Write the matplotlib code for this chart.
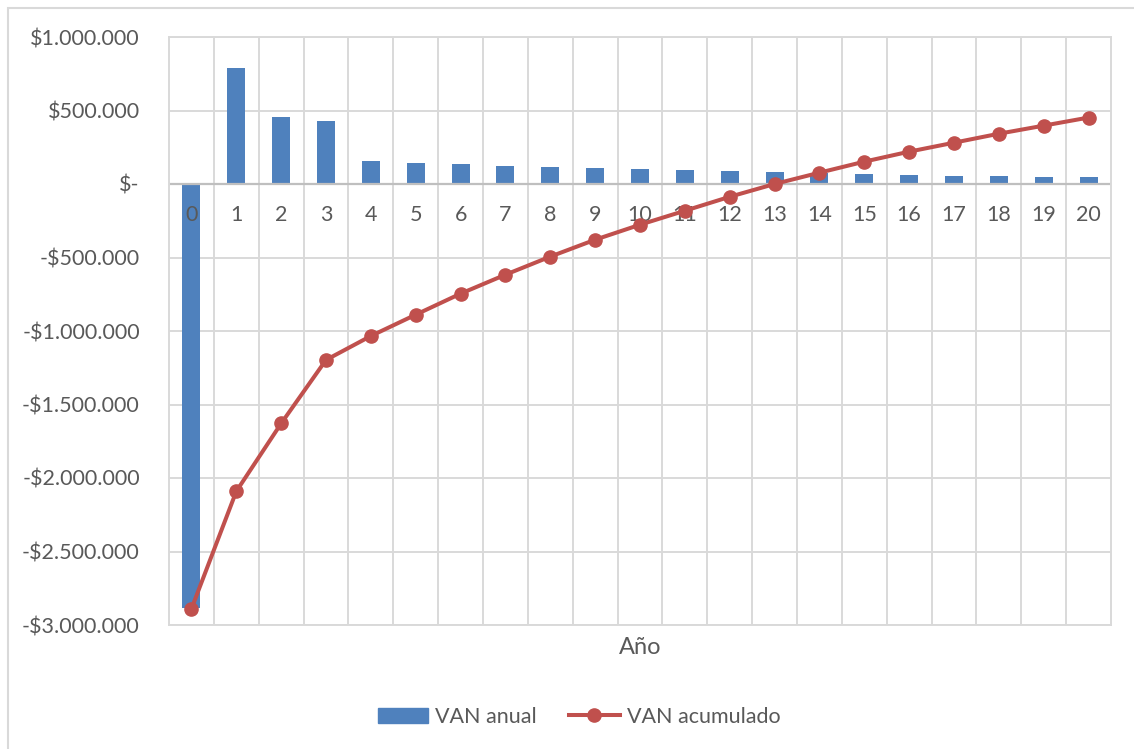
import matplotlib.pyplot as plt
from matplotlib.lines import Line2D
from matplotlib.patches import Patch, Rectangle
from matplotlib.ticker import FuncFormatter

# Años del proyecto y VAN por año / acumulado
anios = list(range(21))
van_anual = [-2885000, 789000, 456000, 430000, 155000, 143000, 133000, 122000,
             116000, 109000, 99000, 93000, 86000, 79000, 77000, 68000, 61000,
             56000, 54000, 50000, 45000]
van_acumulado = [-2890000, -2091000, -1629000, -1197000, -1034000, -889000,
                 -746000, -617000, -494000, -379000, -277000, -182000, -87000,
                 0, 77000, 152000, 220000, 281000, 342000, 397000, 452000]

AZUL = "#4F81BD"
ROJO = "#C0504D"
GRIS_TXT = "#595959"
GRIS_GRID = "#D9D9D9"

plt.rcParams['font.family'] = ['Lato', 'DejaVu Sans']

fig = plt.figure(figsize=(11.34, 7.49), dpi=100)
W, H = 1134, 749
ax = fig.add_axes([169 / W, 1 - 625 / H, (1111 - 169) / W, (625 - 37) / H])

# borde del gráfico
fig.patches.append(Rectangle((8 / W, -0.1), 1.2, 1 - 8 / H + 0.1, transform=fig.transFigure,
                             fill=False, edgecolor="#D9D9D9", linewidth=1.5))

ax.bar(anios, van_anual, width=0.4, color=AZUL, zorder=2)
ax.plot(anios, van_acumulado, color=ROJO, linewidth=2.9, marker="o",
        markersize=9.5, zorder=3)

ax.set_xlim(-0.5, 20.5)
ax.set_ylim(-3000000, 1000000)
ax.set_yticks(range(-3000000, 1000001, 500000))


def pesos(v, pos):
    if v == 0:
        return "$-"
    txt = f"{abs(v):,.0f}".replace(",", ".")
    return ("-$" if v < 0 else "$") + txt


ax.yaxis.set_major_formatter(FuncFormatter(pesos))
ax.tick_params(axis="y", length=0, labelsize=15.5, labelcolor=GRIS_TXT, pad=21)
ax.set_xticks([])

# cuadrícula
for y in range(-3000000, 1000001, 500000):
    ax.axhline(y, color=GRIS_GRID, linewidth=1.4, zorder=0)
for x in [a + 0.5 for a in anios[:-1]]:
    ax.axvline(x, color=GRIS_GRID, linewidth=1.4, zorder=0)
ax.axhline(0, color="#BFBFBF", linewidth=1.6, zorder=2.5)
for s in ax.spines.values():
    s.set_color(GRIS_GRID)
    s.set_linewidth(1.4)

# etiquetas de año sobre el eje en cero (encima de las barras, bajo la línea)
for a in anios:
    ax.annotate(str(a), (a, 0), xytext=(0, -22), textcoords="offset points",
                ha="center", va="center", fontsize=15.5, color=GRIS_TXT,
                zorder=2.7)

fig.text((169 + 1111) / 2 / W, 1 - 647 / H, "Año", ha="center", va="center",
         fontsize=17, color=GRIS_TXT)

handles = [Patch(color=AZUL), Line2D([], [], color=ROJO, linewidth=2.9,
                                     marker="o", markersize=9.5)]
fig.legend(handles, ["VAN anual", "VAN acumulado"], loc="center",
           bbox_to_anchor=(579 / W, 1 - 717 / H), ncol=2, frameon=False,
           fontsize=15.5, labelcolor=GRIS_TXT, handlelength=2.35,
           handletextpad=0.33, columnspacing=1.5)

fig.savefig("out.png", dpi=100)
